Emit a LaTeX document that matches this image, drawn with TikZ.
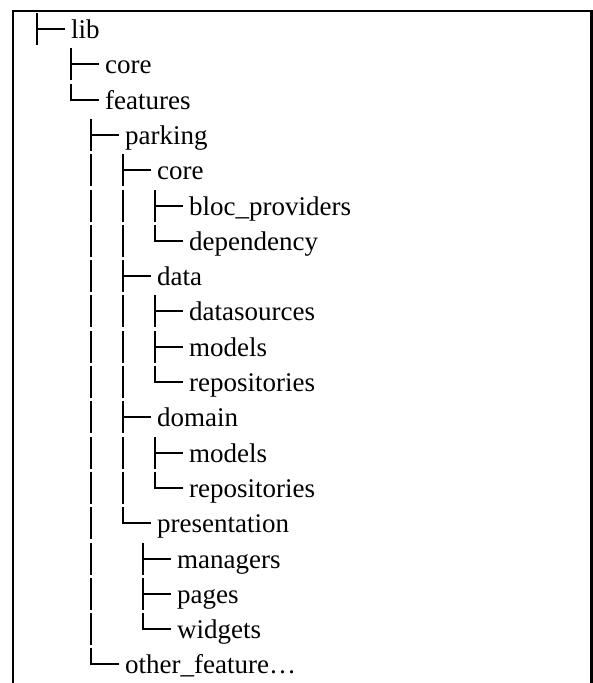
\documentclass[tikz,border=0pt]{standalone}
\usepackage{fontspec}
\setmainfont{Liberation Serif}
\tikzset{
  treeline/.style={line width=2.1pt, line cap=butt, line join=miter},
  framebox/.style={line width=2.4pt},
  lbl/.style={anchor=base west, inner sep=0pt, font=\fontsize{27}{30}\selectfont}
}
\begin{document}
\begin{tikzpicture}[x=1pt,y=-1pt]
\useasboundingbox (0,0) rectangle (593,683);
% frame (open at bottom)
\draw[framebox] (13,690) -- (13,11) -- (591.5,11) -- (591.5,690);
% labels
\foreach \i/\c/\t in {0/37/lib, 1/71/core, 2/71/features, 3/91/parking,
  4/123/core, 5/155/bloc\_providers, 6/155/dependency, 7/123/data,
  8/155/datasources, 9/155/models, 10/155/repositories, 11/123/domain,
  12/155/models, 13/155/repositories, 14/123/presentation,
  15/143/managers, 16/143/pages, 17/143/widgets, 18/91/other\_feature…}{
  \node[lbl] (r\i) at ({\c+34},{round(29+35.3*\i)+9}) {\t};
}
% tee glyphs
\foreach \i/\c in {0/37,1/71,3/91,4/123,5/155,7/123,8/155,9/155,11/123,12/155,15/143,16/143}{
  \pgfmathsetmacro\h{round(29+35.3*\i)}
  \draw[treeline] (\c,\h-16) -- (\c,\h+16)
                  (\c,\h) -- ({\c+28},\h);
}
% elbow glyphs
\foreach \i/\c in {2/71,6/155,10/155,13/155,14/123,17/143,18/91}{
  \pgfmathsetmacro\h{round(29+35.3*\i)}
  \draw[treeline] (\c,\h-16) -- (\c,\h) -- ({\c+28},\h);
}
% vertical bars
\foreach \i/\c in {4/91,5/91,6/91,7/91,8/91,9/91,10/91,11/91,12/91,13/91,14/91,15/91,16/91,17/91,
  5/123,6/123,8/123,9/123,10/123,12/123,13/123}{
  \pgfmathsetmacro\h{round(29+35.3*\i)}
  \draw[treeline] (\c,\h-16) -- (\c,\h+16);
}
\end{tikzpicture}
\end{document}
